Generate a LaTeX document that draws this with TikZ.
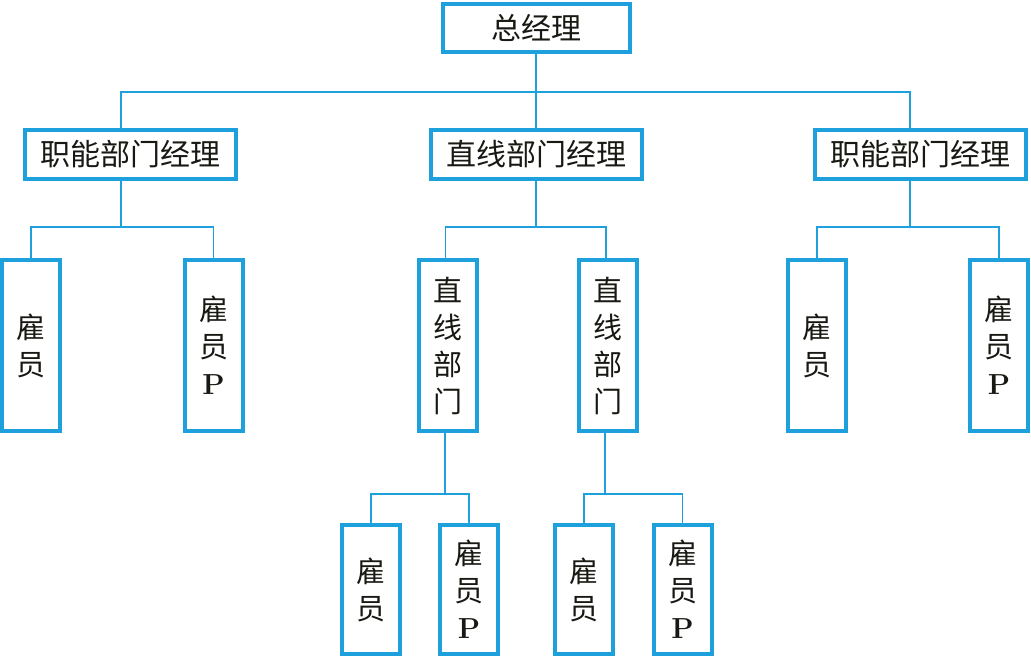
\documentclass[tikz,border=0pt]{standalone}
\usepackage{fontspec}
\newfontfamily\cjk{Noto Sans CJK SC}
\usetikzlibrary{positioning,calc}
\definecolor{orgblue}{RGB}{30,160,220}
\definecolor{orgtext}{RGB}{25,25,20}

\begin{document}
\begin{tikzpicture}[x=1pt, y=-1pt,
  headbox/.style={rectangle, draw=orgblue, line width=4pt, fill=white,
    minimum width=211pt, minimum height=49pt, inner sep=0pt,
    text=orgtext, font=\cjk\fontsize{30}{36}\selectfont},
  staffbox/.style={rectangle, draw=orgblue, line width=4pt, fill=white,
    minimum width=58pt, minimum height=171pt, inner sep=0pt, align=center,
    text=orgtext, font=\cjk\fontsize{29}{37}\selectfont},
  link/.style={draw=orgblue, line width=1.6pt},
]
  \useasboundingbox (0,0) rectangle (1031,658);

  % Managers
  \node[headbox, minimum width=187pt, minimum height=48pt] (ceo) at (536,28) {总经理};
  \node[headbox] (funcL) at (130.5,154.5) {职能部门经理};
  \node[headbox] (lineM) at (536,154.5) {直线部门经理};
  \node[headbox] (funcR) at (920.5,154.5) {职能部门经理};

  % Staff and line departments
  \node[staffbox] (staffL1) at (31,345.5) {雇\\员};
  \node[staffbox] (staffL2) at (213.5,345.5) {雇\\员\\{\rmfamily\bfseries P}};
  \node[staffbox] (lineA) at (447.5,345.5) {直\\线\\部\\门};
  \node[staffbox] (lineB) at (607.5,345.5) {直\\线\\部\\门};
  \node[staffbox] (staffR1) at (817,345.5) {雇\\员};
  \node[staffbox] (staffR2) at (999,345.5) {雇\\员\\{\rmfamily\bfseries P}};

  \node[staffbox, minimum height=129pt] (staffA1) at (371,589.5) {雇\\员};
  \node[staffbox, minimum height=129pt] (staffA2) at (469,589.5) {雇\\员\\{\rmfamily\bfseries P}};
  \node[staffbox, minimum height=129pt] (staffB1) at (584,589.5) {雇\\员};
  \node[staffbox, minimum height=129pt] (staffB2) at (682.5,589.5) {雇\\员\\{\rmfamily\bfseries P}};

  % Connectors
  \draw[link] (ceo.south) -- ++(0,38) coordinate (busTop);
  \draw[link] ([xshift=-9.5pt]funcL.north) |- (busTop) -| ([xshift=-10.5pt]funcR.north);
  \draw[link] (busTop) -- (lineM.north);

  \draw[link] ([xshift=-9.5pt]funcL.south) -- ++(0,46) coordinate (busL);
  \draw[link] (staffL1.north) |- (busL) -| (staffL2.north);
  \draw[link] (lineM.south) -- ++(0,46) coordinate (busM);
  \draw[link] ([xshift=-2pt]lineA.north) |- (busM) -| ([xshift=-1.5pt]lineB.north);
  \draw[link] ([xshift=-10.5pt]funcR.south) -- ++(0,46) coordinate (busR);
  \draw[link] (staffR1.north) |- (busR) -| (staffR2.north);

  \draw[link] ([xshift=-2.5pt]lineA.south) -- ++(0,61) coordinate (busA);
  \draw[link] (staffA1.north) |- (busA) -| (staffA2.north);
  \draw[link] ([xshift=-2.5pt]lineB.south) -- ++(0,61) coordinate (busB);
  \draw[link] (staffB1.north) |- (busB) -| (staffB2.north);
\end{tikzpicture}
\end{document}
